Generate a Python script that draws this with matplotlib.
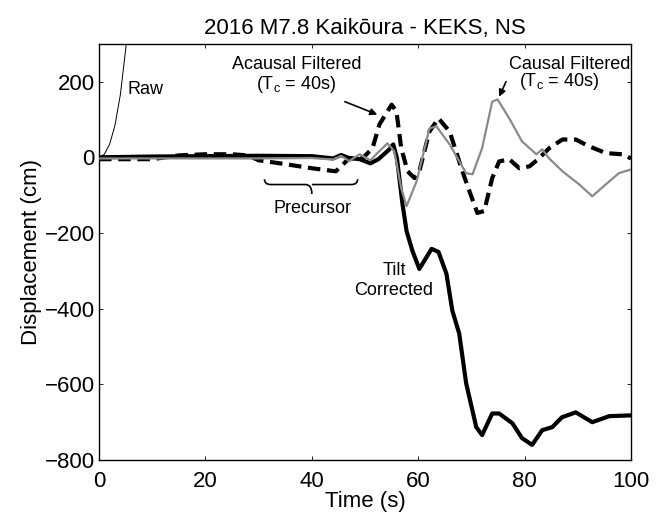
import numpy as np
import matplotlib
matplotlib.use('Agg')
import matplotlib.pyplot as plt
from matplotlib.path import Path
from matplotlib.patches import PathPatch

plt.rcParams['font.family'] = ['Liberation Sans', 'DejaVu Sans']
plt.rcParams['mathtext.default'] = 'regular'

# Raw record (drifts off the top quickly)
raw_t = [0, 1, 2, 3, 4, 5, 5.5]
raw_d = [0, 8, 35, 85, 165, 285, 360]

# Tilt corrected displacement
tilt_t = [0, 10, 20, 30, 40, 44, 45.5, 47, 49, 51, 52.5, 54.5, 55.3, 56, 57, 57.8,
          58.9, 60.2, 61.5, 62.5, 63.8, 65.3, 66.4, 67.7, 69, 70.9, 72, 73.9, 75.2,
          77.7, 79.5, 81.4, 83.3, 85.2, 87, 89.6, 92.7, 95.9, 100]
tilt_d = [0, 2, 3, 4, 3, -3, 6, -2, -5, -16, -5, 20, 34, -3, -120, -195,
          -247, -295, -265, -242, -250, -308, -405, -466, -597, -713, -734, -677, -677,
          -703, -742, -760, -721, -713, -687, -674, -700, -684, -682]

# Acausal filtered (Tc = 40 s)
acausal_t = [0, 5, 10, 15, 20, 25, 28, 30, 35, 40, 44.5, 47, 49.5, 51.4, 52.7, 55,
             55.9, 56.8, 58, 59.3, 60.2, 62.1, 63.8, 65.9, 68.3, 69.6, 71.1, 72.4,
             73.9, 75.2, 77.1, 79, 80.9, 82.7, 84.6, 87.1, 89.6, 92.1, 95.3, 98.3, 100]
acausal_d = [-5, -5, -5, 5, 8, 8, 5, -8, -18, -29, -37, -3, -3, 24, 87, 139,
             121, 24, -37, -55, -37, 68, 103, 68, -37, -89, -147, -142,
             -55, -11, -5, -29, -24, -3, 24, 47, 47, 29, 11, 8, -3]

# Causal filtered (Tc = 40 s)
causal_t = [0, 10, 20, 30, 40, 44, 45.5, 47, 49, 51, 52.1, 54.2, 55.5, 56.8, 57.8,
            59.7, 62.1, 63.4, 65.9, 69, 70.2, 72, 73.9, 74.9, 77.1, 79.5, 82.2,
            83.3, 84.6, 87.1, 90.2, 92.7, 95.3, 97.7, 100]
causal_d = [-3, -3, -3, -3, -2, -6, 4, -10, 8, -8, 8, 37, 16, -82, -129,
            -63, 76, 82, 34, -42, -45, 24, 147, 153, 103, 42, 8,
            21, -3, -37, -71, -103, -71, -42, -32]

fig = plt.figure(figsize=(6.56, 5.21), dpi=100)
ax = fig.add_axes([0.151, 0.117, 0.811, 0.799])

ax.plot(tilt_t, tilt_d, color='black', lw=3, solid_joinstyle='round', zorder=2)
ax.plot(acausal_t, acausal_d, color='black', lw=3, linestyle=(0, (3, 1.6)), zorder=3)
ax.plot(causal_t, causal_d, color='#8a8a8a', lw=1.6, zorder=4)
ax.plot(raw_t, raw_d, color='black', lw=0.7, zorder=5)

ax.set_xlim(0, 100)
ax.set_ylim(-800, 300)
ax.set_xticks([0, 20, 40, 60, 80, 100])
ax.set_yticks([-800, -600, -400, -200, 0, 200])
ax.tick_params(direction='in', top=True, right=True, length=3, width=0.6,
               labelsize=16)
ax.tick_params(axis='x', pad=8)
ax.tick_params(axis='y', pad=3)
for s in ax.spines.values():
    s.set_linewidth(1.0)

ax.set_xlabel('Time (s)', fontsize=16, labelpad=-1)
ax.set_ylabel('Displacement (cm)', fontsize=16, labelpad=2)
ax.set_title('2016 M7.8 Kaik\u014dura - KEKS, NS', fontsize=16, pad=7)

# annotations
ax.text(5.4, 179, 'Raw', fontsize=13, ha='left', va='center')
ax.text(37.1, 245, 'Acausal Filtered', fontsize=13, ha='center', va='center')
ax.text(37.1, 192, '(T$_c$ = 40s)', fontsize=13, ha='center', va='center')
ax.annotate('', xy=(52.3, 113), xytext=(46.2, 147),
            arrowprops=dict(arrowstyle='-|>', color='black', lw=1.2,
                            mutation_scale=10, shrinkA=0, shrinkB=0))
ax.text(88.4, 245, 'Causal Filtered', fontsize=13, ha='center', va='center')
ax.text(86.5, 200, '(T$_c$ = 40s)', fontsize=13, ha='center', va='center')
ax.annotate('', xy=(75.2, 160), xytext=(76.5, 200),
            arrowprops=dict(arrowstyle='-|>', color='black', lw=1.2,
                            mutation_scale=10, shrinkA=0, shrinkB=0))
ax.text(40.1, -134, 'Precursor', fontsize=13, ha='center', va='center')
ax.text(55.5, -300, 'Tilt', fontsize=13, ha='center', va='center')
ax.text(55.3, -353, 'Corrected', fontsize=13, ha='center', va='center')

# curly brace under the precursor window
x0, x1, xm = 31.1, 48.6, 40.0
ytop, ymid, ytip = -58, -72, -97
verts = [(x0, ytop), (x0, ymid), (x0 + 1.2, ymid), (x0 + 1.2, ymid),
         (xm - 1.2, ymid), (xm - 1.2, ymid), (xm, ymid), (xm, ytip),
         (xm, ymid), (xm + 1.2, ymid), (xm + 1.2, ymid),
         (x1 - 1.2, ymid), (x1 - 1.2, ymid), (x1, ymid), (x1, ytop)]
codes = [Path.MOVETO, Path.CURVE3, Path.CURVE3, Path.MOVETO,
         Path.LINETO, Path.MOVETO, Path.CURVE3, Path.CURVE3,
         Path.MOVETO, Path.CURVE3, Path.CURVE3,
         Path.LINETO, Path.MOVETO, Path.CURVE3, Path.CURVE3]
ax.add_patch(PathPatch(Path(verts, codes), fill=False, lw=1.2, color='black'))

fig.savefig('out.png', dpi=100)
